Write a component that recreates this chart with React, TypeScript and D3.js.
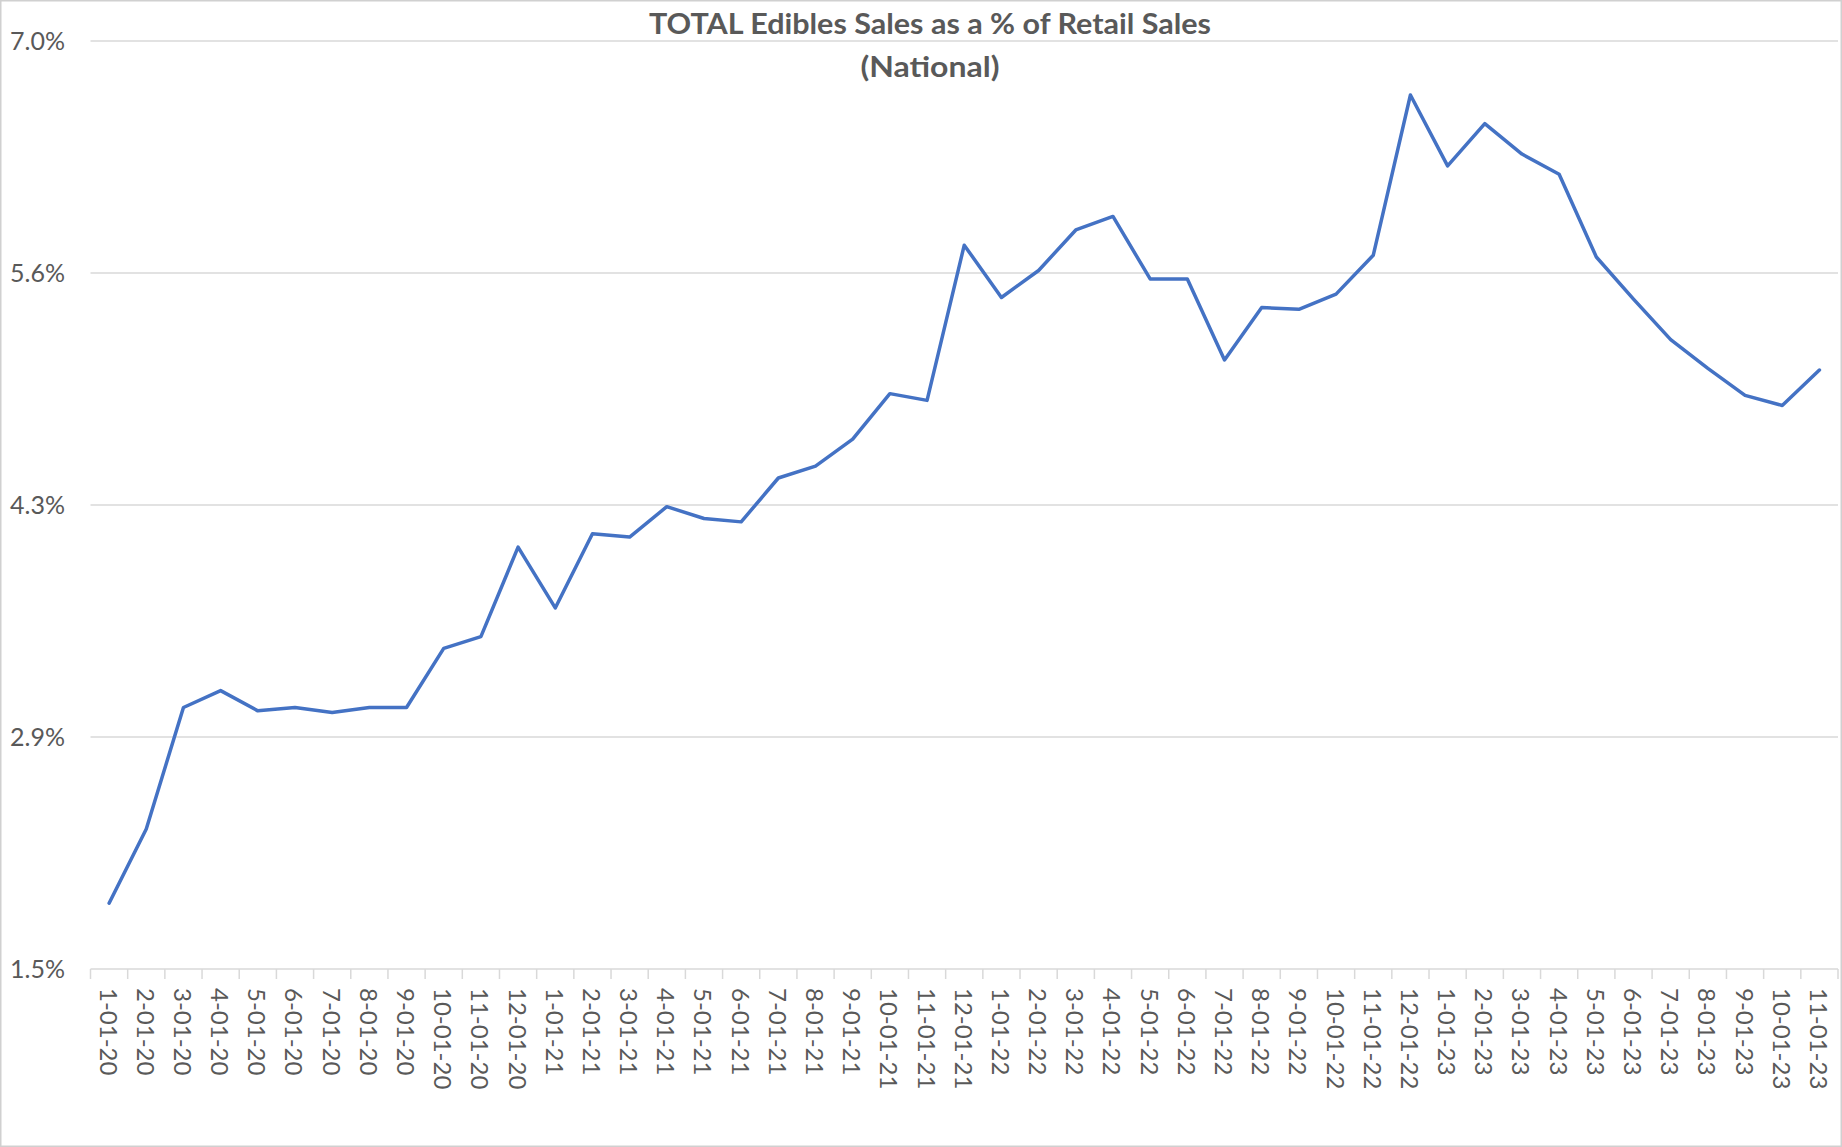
import React from "react";
import * as d3 from "d3";

const categories: string[] = [
  "1-01-20","2-01-20","3-01-20","4-01-20","5-01-20","6-01-20","7-01-20","8-01-20","9-01-20","10-01-20","11-01-20","12-01-20",
  "1-01-21","2-01-21","3-01-21","4-01-21","5-01-21","6-01-21","7-01-21","8-01-21","9-01-21","10-01-21","11-01-21","12-01-21",
  "1-01-22","2-01-22","3-01-22","4-01-22","5-01-22","6-01-22","7-01-22","8-01-22","9-01-22","10-01-22","11-01-22","12-01-22",
  "1-01-23","2-01-23","3-01-23","4-01-23","5-01-23","6-01-23","7-01-23","8-01-23","9-01-23","10-01-23","11-01-23",
];

const values: number[] = [
  1.89, 2.33, 3.05, 3.15, 3.03, 3.05, 3.02, 3.05, 3.05, 3.40, 3.47, 4.00,
  3.64, 4.08, 4.06, 4.24, 4.17, 4.15, 4.41, 4.48, 4.64, 4.91, 4.87, 5.79,
  5.48, 5.64, 5.88, 5.96, 5.59, 5.59, 5.11, 5.42, 5.41, 5.50, 5.73, 6.68,
  6.26, 6.51, 6.33, 6.21, 5.72, 5.47, 5.23, 5.06, 4.90, 4.84, 5.05,
];

const yTickValues: number[] = [1.5, 2.875, 4.25, 5.625, 7.0];
const yTickLabels: string[] = ["1.5%", "2.9%", "4.3%", "5.6%", "7.0%"];

const titleLines: string[] = ["TOTAL Edibles Sales as a % of Retail Sales", "(National)"];

const W = 1842;
const H = 1147;
const FONT = "Lato, Carlito, 'Liberation Sans', sans-serif";
const TEXT = "#595959";

export default function App() {
  const x = d3.scaleBand<string>().domain(categories).range([90.5, 1838]).padding(0);
  const y = d3.scaleLinear().domain([1.5, 7.0]).range([969, 41]);
  const cx = (c: string) => (x(c) ?? 0) + x.bandwidth() / 2;

  const line = d3
    .line<number>()
    .x((_, i) => cx(categories[i]))
    .y((d) => y(d));

  const [x0, x1] = x.range();
  const boundaries = categories.map((c) => x(c) ?? 0).concat([x1]);
  const titleWidths = [562, 139];

  return (
    <svg
      width={W}
      height={H}
      style={{ position: "absolute", left: 0, top: 0, background: "#fff" }}
      fontFamily={FONT}
    >
      <rect x={0.75} y={0.75} width={W - 1.5} height={H - 1.5} fill="#fff" stroke="#d0d0d0" strokeWidth={1.5} />

      {/* gridlines */}
      {yTickValues.slice(1).map((v) => (
        <line key={v} x1={x0} x2={x1} y1={y(v)} y2={y(v)} stroke="#d9d9d9" strokeWidth={1.5} />
      ))}

      {/* x axis line and ticks */}
      <line x1={x0} x2={x1} y1={y(1.5)} y2={y(1.5)} stroke="#d9d9d9" strokeWidth={1.5} />
      {boundaries.map((b, i) => (
        <line key={i} x1={b} x2={b} y1={y(1.5)} y2={y(1.5) + 10} stroke="#d9d9d9" strokeWidth={1.5} />
      ))}

      {/* y labels */}
      {yTickValues.map((v, i) => (
        <text
          key={v}
          x={65}
          y={y(v)}
          dy="0.35em"
          textAnchor="end"
          fontSize={25}
          fill={TEXT}
        >
          {yTickLabels[i]}
        </text>
      ))}

      {/* x labels */}
      {categories.map((c) => (
        <text
          key={c}
          transform={`translate(${cx(c)},${y(1.5) + 19}) rotate(90)`}
          textAnchor="start"
          dominantBaseline="central"
          fontSize={24}
          fill={TEXT}
        >
          {c}
        </text>
      ))}

      {/* line */}
      <path d={line(values) ?? ""} fill="none" stroke="#4472C4" strokeWidth={3.5} strokeLinejoin="round" strokeLinecap="round" />

      {/* title */}
      {titleLines.map((t, i) => (
        <text
          key={i}
          x={930}
          y={34 + i * 43}
          textAnchor="middle"
          fontSize={29}
          fontWeight="bold"
          fill={TEXT}
          textLength={titleWidths[i]}
          lengthAdjust="spacingAndGlyphs"
        >
          {t}
        </text>
      ))}
    </svg>
  );
}
